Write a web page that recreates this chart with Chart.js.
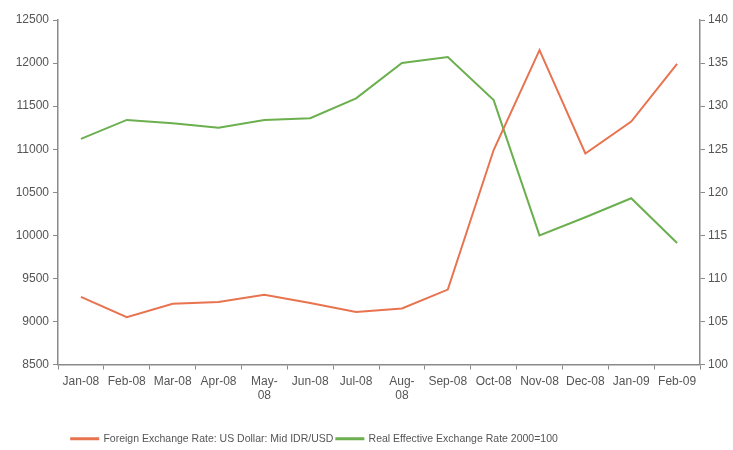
<!DOCTYPE html>
<html>
<head>
<meta charset="utf-8">
<script src="https://cdn.jsdelivr.net/npm/chart.js@4.4.1/dist/chart.umd.min.js"></script>
<style>
  html, body { margin: 0; padding: 0; background: #fff; }
  #wrap { width: 733px; height: 450px; position: relative; }
</style>
</head>
<body>
<div id="wrap"><canvas id="rateChart"></canvas></div>
<script>
// monthly data, Jan 2008 - Feb 2009
const months = ['Jan-08', 'Feb-08', 'Mar-08', 'Apr-08', ['May-', '08'], 'Jun-08', 'Jul-08',
    ['Aug-', '08'], 'Sep-08', 'Oct-08', 'Nov-08', 'Dec-08', 'Jan-09', 'Feb-09'];
const idrUsd = [9285, 9050, 9205, 9225, 9310, 9215, 9110, 9150, 9370, 10990, 12150, 10950, 11320, 11990];
const reer = [126.2, 128.4, 128.0, 127.5, 128.4, 128.6, 130.9, 135.0, 135.7, 130.7, 115.0, 117.1, 119.3, 114.1];

const leftTicks = { min: 8500, max: 12500, step: 500 };
const rightTicks = { min: 100, max: 140, step: 5 };

const axisGray = '#8a8a8a';
const textGray = '#555555';
const labelFont = { family: 'Liberation Sans, Arial, sans-serif', size: 12 };

function axisStyle(fitWidth) {
    return {
        border: { color: axisGray, width: 1.5 },
        grid: { drawOnChartArea: false, color: axisGray, tickLength: 5, lineWidth: 1 },
        afterFit: function (scale) { scale.width = fitWidth; }
    };
}

// plain numbers, no thousands separator
function plain(value) { return String(value); }

// legend sits a bit left of centre
const legendShift = {
    id: 'legendShift',
    afterLayout(chart) {
        chart.legend.left -= 52;
        chart.legend.right -= 52;
    }
};

new Chart(document.getElementById('rateChart'), {
    type: 'line',
    data: {
        labels: months,
        datasets: [{
            label: 'Foreign Exchange Rate: US Dollar: Mid IDR/USD',
            data: idrUsd,
            yAxisID: 'y',
            borderColor: '#e8734f',
            backgroundColor: '#e8734f',
            borderWidth: 2,
            pointRadius: 0,
            tension: 0
        }, {
            label: 'Real Effective Exchange Rate 2000=100',
            data: reer,
            yAxisID: 'y1',
            borderColor: '#6baf4e',
            backgroundColor: '#6baf4e',
            borderWidth: 2,
            pointRadius: 0,
            tension: 0
        }]
    },
    plugins: [legendShift],
    options: {
        responsive: true,
        maintainAspectRatio: false,
        animation: false,
        layout: { padding: { top: 20, bottom: -4, left: 0, right: 0 } },
        plugins: {
            tooltip: { enabled: false },
            legend: {
                position: 'bottom',
                labels: {
                    color: textGray,
                    boxWidth: 27,
                    boxHeight: 1,
                    padding: 3,
                    font: { family: 'Liberation Sans, Arial, sans-serif', size: 10.5 }
                }
            }
        },
        scales: {
            x: {
                offset: true,
                border: { color: axisGray, width: 1.5 },
                grid: { drawOnChartArea: false, offset: true, color: axisGray, tickLength: 5 },
                ticks: {
                    color: textGray,
                    maxRotation: 0,
                    autoSkip: false,
                    padding: 5,
                    font: labelFont
                },
                afterFit: function (scale) { scale.height = 66; }
            },
            y: Object.assign(axisStyle(58), {
                position: 'left',
                min: leftTicks.min,
                max: leftTicks.max,
                ticks: {
                    stepSize: leftTicks.step,
                    color: textGray,
                    padding: 4,
                    font: labelFont,
                    callback: plain
                }
            }),
            y1: Object.assign(axisStyle(33), {
                position: 'right',
                min: rightTicks.min,
                max: rightTicks.max,
                ticks: {
                    stepSize: rightTicks.step,
                    color: textGray,
                    padding: 3,
                    font: labelFont,
                    callback: plain
                }
            })
        }
    }
});
</script>
</body>
</html>
